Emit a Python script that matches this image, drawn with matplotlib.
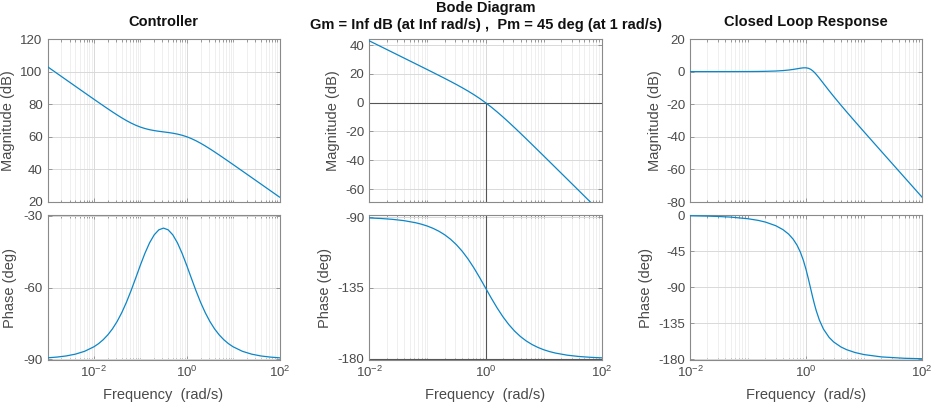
import matplotlib
matplotlib.use("Agg")
import matplotlib.pyplot as plt
from matplotlib.ticker import FixedLocator, LogLocator, NullFormatter, LogFormatterSciNotation

plt.rcParams['font.family'] = ['Liberation Sans', 'DejaVu Sans']
plt.rcParams['mathtext.fontset'] = 'custom'
plt.rcParams['mathtext.rm'] = 'Liberation Sans'
plt.rcParams['axes.unicode_minus'] = False

# ---------------- data ----------------
# Controller
ctrl_w = [0.001, 0.001585, 0.002512, 0.003981, 0.00631, 0.01, 0.01259, 0.01585, 0.01995, 0.02512,
          0.03162, 0.03981, 0.05012, 0.0631, 0.07943, 0.1, 0.1259, 0.1585, 0.1995, 0.2512, 0.3162,
          0.3981, 0.5012, 0.631, 0.7943, 1.0, 1.259, 1.585, 1.995, 2.512, 3.162, 3.981, 5.012, 6.31,
          7.943, 10.0, 15.85, 25.12, 39.81, 63.1, 100.0]
ctrl_mag = [103.01, 99.01, 95.01, 91.02, 87.03, 83.05, 81.08, 79.12, 77.18, 75.27,
            73.42, 71.64, 69.97, 68.45, 67.11, 65.98, 65.07, 64.36, 63.81, 63.38, 63.01,
            62.64, 62.21, 61.66, 60.95, 60.04, 58.91, 57.57, 56.05, 54.38, 52.60, 50.75, 48.84, 46.90,
            44.94, 42.97, 38.99, 35.00, 31.01, 27.01, 23.01]
ctrl_phase = [-89.48, -89.18, -88.71, -87.95, -86.75, -84.86, -83.55, -81.90, -79.86, -77.34,
              -74.26, -70.57, -66.25, -61.36, -56.08, -50.71, -45.64, -41.26, -37.91, -35.81, -35.10,
              -35.81, -37.91, -41.26, -45.64, -50.71, -56.08, -61.36, -66.25, -70.57, -74.26, -77.34,
              -79.86, -81.90, -83.55, -84.86, -86.75, -87.95, -88.71, -89.18, -89.48]

# Open loop (Bode diagram with margins)
ol_w = [0.01, 0.01585, 0.02512, 0.03981, 0.0631, 0.07943, 0.1, 0.1259, 0.1585, 0.1995, 0.2512,
        0.3162, 0.3981, 0.5012, 0.631, 0.7943, 1.0, 1.259, 1.585, 1.995, 2.512, 3.162, 3.981, 5.012,
        6.31, 7.943, 10.0, 12.59, 15.85, 25.12, 39.81, 63.1, 100.0]
ol_mag = [43.01, 39.01, 35.01, 31.00, 26.99, 24.98, 22.97, 20.94, 18.90, 16.84, 14.74,
          12.60, 10.37, 8.04, 5.56, 2.89, 0.00, -3.11, -6.45, -9.96, -13.63, -17.40, -21.26, -25.16,
          -29.10, -33.06, -37.03, -41.02, -45.01, -53.00, -60.99, -68.99, -76.99]
ol_phase = [-90.57, -90.91, -91.44, -92.28, -93.61, -94.54, -95.71, -97.18, -99.01, -101.28, -104.10,
            -107.55, -111.71, -116.62, -122.25, -128.46, -135.0, -141.54, -147.75, -153.38, -158.29,
            -162.45, -165.90, -168.72, -170.99, -172.82, -174.29, -175.46, -176.39, -177.72, -178.56,
            -179.09, -179.43]
gm_text = "Inf"
pm_value = 45
wc = 1.0

# Closed loop response
cl_w = [0.01, 0.02, 0.03, 0.05, 0.1, 0.15, 0.2, 0.3, 0.4, 0.5, 0.6, 0.7, 0.8, 0.9, 1.0, 1.1, 1.2, 1.3,
        1.4, 1.5, 1.7, 2, 2.5, 3, 4, 5, 7, 10, 20, 50, 100]
cl_mag = [0.00, 0.00, 0.00, 0.01, 0.04, 0.09, 0.16, 0.35, 0.62, 0.95, 1.33, 1.73, 2.08, 2.31, 2.32, 2.04,
          1.42, 0.54, -0.53, -1.69, -4.04, -7.28, -11.71, -15.22, -20.58, -24.63, -30.63, -36.91,
          -49.01, -64.95, -76.99]
cl_phase = [-0.41, -0.81, -1.22, -2.03, -4.07, -6.15, -8.28, -12.76, -17.69, -23.24, -29.65, -37.14,
            -45.94, -56.13, -67.5, -79.48, -91.23, -101.98, -111.30, -119.13, -130.96, -142.28,
            -152.66, -158.42, -164.66, -168.03, -171.63, -174.21, -177.13, -178.85, -179.43]

titles = ["Controller", "Bode Diagram", "Closed Loop Response"]
mag_ticks = [[20, 40, 60, 80, 100, 120], [-60, -40, -20, 0, 20, 40], [-80, -60, -40, -20, 0, 20]]
phase_ticks = [[-90, -60, -30], [-180, -135, -90], [-180, -135, -90, -45, 0]]

# ---------------- figure ----------------
LINE = '#0b86c8'
EDGE = '#8a8a8a'
TXT = '#4a4a4a'
W, H = 934, 405
fig = plt.figure(figsize=(W / 100, H / 100), dpi=100)

def px_axes(x0, x1, y0, y1):
    return fig.add_axes([x0 / W, 1 - y1 / H, (x1 - x0) / W, (y1 - y0) / H])

cols = [(47.5, 279.5), (369, 602), (690, 922)]
top_rows = (39, 202)
bot_rows = (215, 360)

xlims = [(1e-3, 1e2), (1e-2, 1e2), (1e-2, 1e2)]
mag_lims = [(20, 120), (-69.0, 44.2), (-80, 20)]
ph_lims = [(-90.4, -29.6), (-180.8, -88.7), (-181, 0.6)]
ylab_mag_px = [8, 333, 655]
ylab_ph_px = [10, 325, 646]

def style(ax, xlim, ylim, yticks, show_xlabels):
    ax.set_xscale('log')
    ax.set_xlim(*xlim)
    ax.set_ylim(*ylim)
    ax.xaxis.set_major_locator(FixedLocator([1e-2, 1e0, 1e2]))
    ax.xaxis.set_minor_locator(LogLocator(base=10, subs=[1, 2, 3, 4, 5, 6, 7, 8, 9], numticks=50))
    ax.xaxis.set_minor_formatter(NullFormatter())
    if show_xlabels:
        ax.xaxis.set_major_formatter(LogFormatterSciNotation())
    else:
        ax.xaxis.set_major_formatter(NullFormatter())
    ax.set_yticks(yticks)
    ax.grid(True, which='major', color='#d9d9d9', linewidth=0.7)
    ax.grid(True, which='minor', axis='x', color='#ececec', linewidth=0.6)
    ax.set_axisbelow(True)
    for s in ax.spines.values():
        s.set_color(EDGE)
        s.set_linewidth(0.8)
    ax.tick_params(which='both', direction='in', top=True, right=True, colors=EDGE,
                   labelcolor=TXT, labelsize=9.5, width=0.6)
    ax.tick_params(which='major', length=3)
    ax.tick_params(which='minor', length=1.8)

def place_ylabel(ax, text, xpix, x0, x1):
    ax.set_ylabel(text, fontsize=10.5, color=TXT)
    lab = ax.yaxis.label
    lab.set_rotation_mode('anchor')
    lab.set_va('center')
    lab.set_ha('center')
    ax.yaxis.set_label_coords((xpix - x0) / (x1 - x0), 0.5)

data = [(ctrl_w, ctrl_mag, ctrl_phase), (ol_w, ol_mag, ol_phase), (cl_w, cl_mag, cl_phase)]

for i, (xw, mag, ph) in enumerate(data):
    (x0, x1) = cols[i]
    axm = px_axes(x0, x1, *top_rows)
    axp = px_axes(x0, x1, *bot_rows)
    if i == 1:
        axm.axhline(0, color='#555555', linewidth=0.8, zorder=1.5)
        axm.plot([wc, wc], [mag_lims[1][0], 0], color='#555555', linewidth=0.8, zorder=1.5)
        axp.axhline(-180, color='#555555', linewidth=0.8, zorder=1.5)
        axp.axvline(wc, color='#555555', linewidth=0.8, zorder=1.5)
    axm.plot(xw, mag, color=LINE, linewidth=0.9, zorder=3)
    axp.plot(xw, ph, color=LINE, linewidth=0.9, zorder=3)
    style(axm, xlims[i], mag_lims[i], mag_ticks[i], False)
    style(axp, xlims[i], ph_lims[i], phase_ticks[i], True)
    place_ylabel(axm, "Magnitude (dB)", ylab_mag_px[i], x0, x1)
    place_ylabel(axp, "Phase (deg)", ylab_ph_px[i], x0, x1)
    axp.set_xlabel("Frequency  (rad/s)", fontsize=10.5, color=TXT, labelpad=6)
    cx = (x0 + x1) / 2 / W
    if i == 1:
        fig.text(cx, 1 - 8 / H, titles[i], ha='center', va='center', fontsize=10.5,
                 fontweight='bold', color='#111111')
        fig.text(cx, 1 - 25 / H,
                 "Gm = %s dB (at %s rad/s) ,  Pm = %d deg (at %g rad/s)" % (gm_text, gm_text, pm_value, wc),
                 ha='center', va='center', fontsize=10.5, fontweight='bold', color='#111111')
    else:
        fig.text(cx, 1 - 22 / H, titles[i], ha='center', va='center', fontsize=10.5,
                 fontweight='bold', color='#111111')

fig.savefig("out.png", dpi=100)
